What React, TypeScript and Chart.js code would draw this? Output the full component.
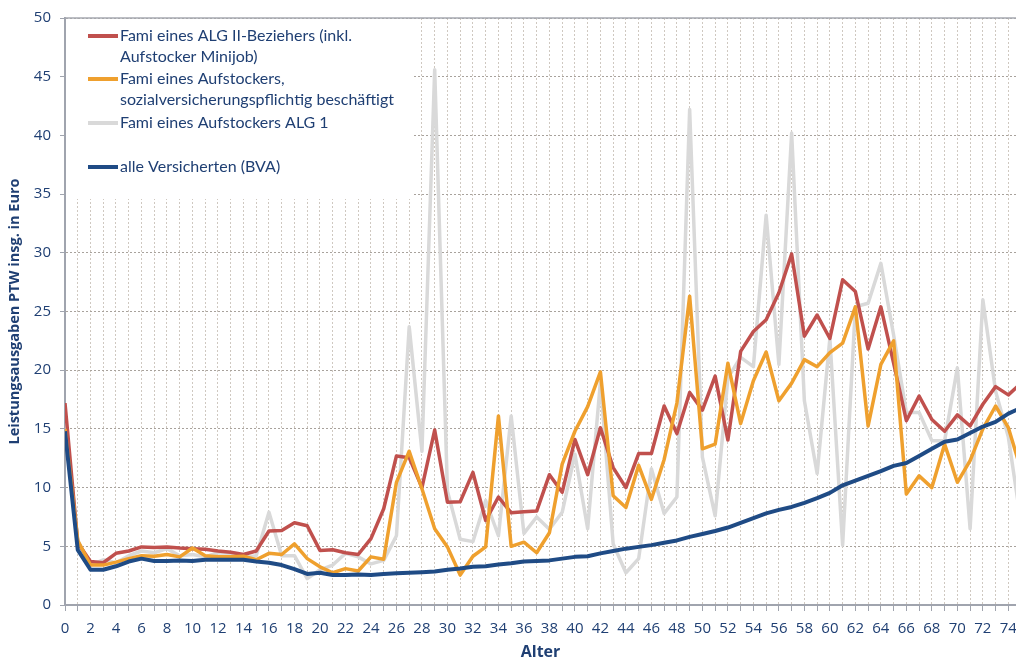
import React, { useEffect, useRef } from "react";
import { Chart, registerables } from "chart.js";

Chart.register(...registerables);

const AGES = [
  0, 1, 2, 3, 4, 5, 6, 7, 8, 9, 10, 11, 12, 13, 14, 15, 16, 17, 18, 19,
  20, 21, 22, 23, 24, 25, 26, 27, 28, 29, 30, 31, 32, 33, 34, 35, 36, 37, 38, 39,
  40, 41, 42, 43, 44, 45, 46, 47, 48, 49, 50, 51, 52, 53, 54, 55, 56, 57, 58, 59,
  60, 61, 62, 63, 64, 65, 66, 67, 68, 69, 70, 71, 72, 73, 74, 75,
];

const ALG2 = [
  17.2, 5.3, 3.7, 3.6, 4.4, 4.6, 4.95, 4.9, 4.95, 4.85, 4.8, 4.75, 4.6, 4.5, 4.3, 4.6, 6.3, 6.35, 7.0, 6.75,
  4.65, 4.7, 4.45, 4.3, 5.65, 8.2, 12.7, 12.55, 10.0, 14.9, 8.75, 8.8, 11.3, 7.2, 9.2, 7.85, 7.95, 8.0, 11.1, 9.6,
  14.1, 11.1, 15.1, 11.7, 10.0, 12.9, 12.9, 16.95, 14.6, 18.1, 16.6, 19.5, 14.05, 21.6, 23.3, 24.3, 26.6, 29.9, 22.9, 24.7,
  22.7, 27.7, 26.7, 21.8, 25.4, 20.6, 15.7, 17.8, 15.8, 14.8, 16.2, 15.25, 17.1, 18.6, 17.9, 18.9,
];

const AUFSTOCKER_SV = [
  15.0, 5.5, 3.4, 3.4, 3.65, 3.95, 4.2, 4.15, 4.3, 4.1, 4.85, 4.2, 4.1, 4.1, 4.15, 3.85, 4.4, 4.3, 5.2, 3.95,
  3.25, 2.75, 3.1, 2.9, 4.1, 3.9, 10.45, 13.1, 9.9, 6.5, 4.95, 2.55, 4.15, 4.95, 16.1, 5.0, 5.35, 4.45, 6.15, 12.0,
  14.8, 16.9, 19.85, 9.3, 8.3, 11.9, 9.0, 12.4, 17.2, 26.3, 13.3, 13.7, 20.6, 15.45, 19.1, 21.55, 17.4, 18.9, 20.9, 20.3,
  21.5, 22.3, 25.4, 15.25, 20.5, 22.5, 9.45, 11.0, 10.0, 13.7, 10.45, 12.3, 15.0, 16.95, 15.1, 11.5,
];

const AUFSTOCKER_ALG1 = [
  16.0, 5.5, 3.4, 3.85, 3.6, 4.2, 4.6, 4.45, 4.8, 4.2, 4.3, 4.1, 4.45, 4.4, 4.05, 4.2, 7.9, 4.2, 4.2, 2.25,
  3.0, 3.4, 4.4, 4.1, 3.5, 3.8, 5.9, 23.7, 13.1, 45.6, 9.7, 5.6, 5.4, 8.9, 5.9, 16.1, 6.1, 7.5, 6.45, 7.9,
  12.85, 6.5, 19.0, 5.2, 2.75, 3.95, 11.6, 7.8, 9.2, 42.2, 12.6, 7.6, 19.35, 21.1, 20.3, 33.2, 20.5, 40.2, 17.4, 11.2,
  22.7, 5.1, 25.4, 25.7, 29.1, 23.0, 16.4, 16.4, 14.0, 14.0, 20.2, 6.5, 26.0, 18.2, 14.3, 7.0,
];

const ALLE_BVA = [
  14.8, 4.7, 3.0, 3.0, 3.3, 3.7, 3.95, 3.75, 3.75, 3.8, 3.75, 3.85, 3.85, 3.85, 3.85, 3.7, 3.6, 3.4, 3.05, 2.65,
  2.75, 2.55, 2.55, 2.6, 2.55, 2.65, 2.7, 2.75, 2.8, 2.85, 3.0, 3.1, 3.25, 3.3, 3.45, 3.55, 3.7, 3.75, 3.8, 3.95,
  4.1, 4.15, 4.4, 4.6, 4.8, 4.95, 5.1, 5.3, 5.5, 5.8, 6.05, 6.3, 6.6, 7.0, 7.4, 7.8, 8.1, 8.35, 8.7, 9.1,
  9.55, 10.2, 10.6, 11.0, 11.4, 11.85, 12.1, 12.7, 13.3, 13.9, 14.1, 14.65, 15.2, 15.6, 16.3, 16.8,
];

const LEGEND_LINES = [
  ["Fami eines ALG II-Beziehers (inkl.", "Aufstocker Minijob)"],
  ["Fami eines Aufstockers,", "sozialversicherungspflichtig beschäftigt"],
  ["Fami eines Aufstockers ALG 1"],
  ["alle Versicherten (BVA)"],
];

const Y_TITLE = "Leistungsausgaben PTW insg. in Euro";
const X_TITLE = "Alter";

const C_RED = "#C0504D";
const C_ORANGE = "#EFA02E";
const C_GRAY = "#D9D9D9";
const C_BLUE = "#1F4B85";
const TEXT = "#1F3F73";
const SERIES_COLORS = [C_RED, C_ORANGE, C_GRAY, C_BLUE];

const toPoints = (ys: number[]) => ys.map((y, i) => ({ x: AGES[i], y }));

const legendPlugin = {
  id: "customLegend",
  beforeDatasetsDraw(chart: any) {
    const { ctx, chartArea } = chart;
    ctx.save();
    // top border
    ctx.strokeStyle = "#A6A8B0";
    ctx.lineWidth = 1.5;
    ctx.beginPath();
    ctx.moveTo(chartArea.left, chartArea.top);
    ctx.lineTo(chartArea.right, chartArea.top);
    ctx.stroke();
    // legend box
    ctx.fillStyle = "#ffffff";
    ctx.fillRect(chartArea.left + 1, chartArea.top + 1, 348, 180);
    const rowY = [18, 61, 105, 149];
    const lineH = 21;
    ctx.font = "16px Lato";
    ctx.textBaseline = "middle";
    ctx.textAlign = "left";
    LEGEND_LINES.forEach((lines, i) => {
      const y = chartArea.top + rowY[i];
      ctx.strokeStyle = SERIES_COLORS[i];
      ctx.lineWidth = 4;
      ctx.beginPath();
      ctx.moveTo(chartArea.left + 23, y);
      ctx.lineTo(chartArea.left + 53, y);
      ctx.stroke();
      ctx.fillStyle = TEXT;
      lines.forEach((t, j) => {
        ctx.fillText(t, chartArea.left + 55, y + j * lineH);
      });
    });
    ctx.restore();
  },
};

export default function App() {
  const ref = useRef<HTMLCanvasElement | null>(null);
  useEffect(() => {
    if (!ref.current) return;
    Chart.defaults.font.family = "'Open Sans', sans-serif";
    const chart = new Chart(ref.current, {
      type: "line",
      data: {
        datasets: [
          { label: LEGEND_LINES[0].join(" "), data: toPoints(ALG2), borderColor: C_RED, borderWidth: 3.5, order: 2 },
          { label: LEGEND_LINES[1].join(" "), data: toPoints(AUFSTOCKER_SV), borderColor: C_ORANGE, borderWidth: 3.5, order: 1 },
          { label: LEGEND_LINES[2].join(" "), data: toPoints(AUFSTOCKER_ALG1), borderColor: C_GRAY, borderWidth: 3.5, order: 3 },
          { label: LEGEND_LINES[3].join(" "), data: toPoints(ALLE_BVA), borderColor: C_BLUE, borderWidth: 4, order: 0 },
        ],
      },
      options: {
        animation: false,
        responsive: true,
        maintainAspectRatio: false,
        layout: { padding: { top: 15, right: 0, left: 0, bottom: 0 } },
        elements: { point: { radius: 0 }, line: { tension: 0, borderJoinStyle: "round" } },
        plugins: { legend: { display: false }, tooltip: { enabled: false } },
        scales: {
          x: {
            type: "linear",
            min: 0,
            max: 74.6,
            ticks: {
              stepSize: 1,
              autoSkip: false,
              includeBounds: false,
              maxRotation: 0,
              color: TEXT,
              font: { size: 15 },
              padding: 9,
              callback: (v: any) => (Number.isInteger(v) && v % 2 === 0 ? String(v) : ""),
            },
            grid: {
              color: "#CFC8C0",
              lineWidth: 1,
              tickLength: 6,
              tickColor: "#A0A4AE",
              tickBorderDash: [],
            },
            border: { display: true, color: "#A0A4AE", width: 2, dash: [2, 2] },
            title: {
              display: true,
              text: X_TITLE,
              color: TEXT,
              font: { size: 16, weight: "bold" },
              padding: { top: 2, bottom: 0 },
            },
            afterFit: (s: any) => {
              s.height = 57;
              s.paddingLeft = 0;
              s.paddingRight = 0;
            },
          },
          y: {
            min: 0,
            max: 50,
            ticks: { stepSize: 5, color: TEXT, font: { size: 15 }, padding: 9 },
            grid: {
              color: "#A8A29C",
              lineWidth: 1,
              tickLength: 5,
              tickColor: "#A0A4AE",
              tickBorderDash: [],
            },
            border: { display: true, color: "#A0A4AE", width: 2, dash: [2, 2] },
            title: {
              display: true,
              text: Y_TITLE,
              color: TEXT,
              font: { size: 14.5, weight: "bold" },
              padding: { top: 6, bottom: 4 },
            },
            afterFit: (s: any) => {
              s.width = 65;
            },
          },
        },
      },
      plugins: [legendPlugin],
    });
    return () => chart.destroy();
  }, []);
  return (
    <div style={{ position: "fixed", left: 0, top: 0, width: 1016, height: 662, background: "#fff" }}>
      <canvas ref={ref} />
    </div>
  );
}
